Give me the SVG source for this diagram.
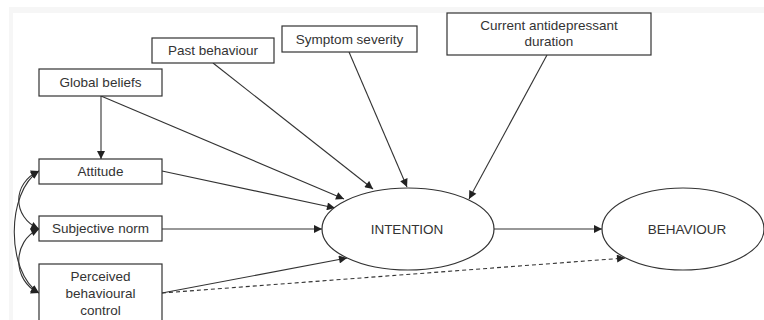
<svg xmlns="http://www.w3.org/2000/svg" width="764" height="320" viewBox="0 0 764 320">
<style>
.box{fill:#fff;stroke:#333;stroke-width:1.2}
.lbl{font-family:"Liberation Sans",Arial,sans-serif;font-size:13.5px;fill:#333;text-anchor:middle}
.ln{fill:none;stroke:#333;stroke-width:1.1}
.dash{stroke-dasharray:4 3}
</style>
<defs>
<marker id="ah" viewBox="0 0 10 10" refX="10" refY="5" markerWidth="9" markerHeight="8" markerUnits="userSpaceOnUse" orient="auto-start-reverse">
<path d="M0,0 L10,5 L0,10 Z" fill="#222"/>
</marker>
</defs>
<rect x="0" y="0" width="764" height="320" fill="#fff"/>
<rect x="9" y="7" width="755" height="313" fill="#f6f6f6"/>
<rect x="13" y="13" width="751" height="307" fill="#fff"/>
<g id="connectors">
<line class="ln" x1="101" y1="96" x2="101" y2="159" marker-end="url(#ah)"/>
<line class="ln" x1="101" y1="96" x2="344" y2="199" marker-end="url(#ah)"/>
<line class="ln" x1="213" y1="63" x2="373" y2="189" marker-end="url(#ah)"/>
<line class="ln" x1="349" y1="52" x2="407" y2="187" marker-end="url(#ah)"/>
<line class="ln" x1="547" y1="55" x2="469" y2="199" marker-end="url(#ah)"/>
<line class="ln" x1="162" y1="171" x2="335" y2="208" marker-end="url(#ah)"/>
<line class="ln" x1="162" y1="229" x2="322" y2="229" marker-end="url(#ah)"/>
<line class="ln" x1="162" y1="293" x2="347" y2="258" marker-end="url(#ah)"/>
<line class="ln dash" x1="162" y1="293" x2="625" y2="258" marker-end="url(#ah)"/>
<line class="ln" x1="494" y1="229" x2="602" y2="229" marker-end="url(#ah)"/>
<path class="ln" d="M39,171 C12,183 12,217 39,229" marker-start="url(#ah)" marker-end="url(#ah)"/>
<path class="ln" d="M39,229 C12,241 12,281 39,293" marker-start="url(#ah)" marker-end="url(#ah)"/>
<path class="ln" d="M39,171 C6,192 6,272 39,293" marker-start="url(#ah)" marker-end="url(#ah)"/>
</g>
<g id="global-beliefs">
<rect class="box" x="39" y="69" width="123" height="27"/>
<text class="lbl" x="100.5" y="87">Global beliefs</text>
</g>
<g id="past-behaviour">
<rect class="box" x="152" y="38" width="122" height="25"/>
<text class="lbl" x="213" y="55">Past behaviour</text>
</g>
<g id="symptom-severity">
<rect class="box" x="282" y="26" width="135" height="26"/>
<text class="lbl" x="349.5" y="44">Symptom severity</text>
</g>
<g id="current-antidepressant-duration">
<rect class="box" x="447" y="13" width="204" height="42"/>
<text class="lbl" x="549" y="30">Current antidepressant</text>
<text class="lbl" x="549" y="46">duration</text>
</g>
<g id="attitude">
<rect class="box" x="39" y="159" width="123" height="25"/>
<text class="lbl" x="100.5" y="176">Attitude</text>
</g>
<g id="subjective-norm">
<rect class="box" x="39" y="216" width="123" height="25"/>
<text class="lbl" x="100.5" y="233">Subjective norm</text>
</g>
<g id="perceived-behavioural-control">
<rect class="box" x="39" y="264" width="123" height="60"/>
<text class="lbl" x="100.5" y="281">Perceived</text>
<text class="lbl" x="100.5" y="298">behavioural</text>
<text class="lbl" x="100.5" y="315">control</text>
</g>
<g id="intention">
<ellipse class="box" cx="408" cy="229" rx="86" ry="41"/>
<text class="lbl" x="407" y="234">INTENTION</text>
</g>
<g id="behaviour">
<ellipse class="box" cx="683" cy="229" rx="81" ry="41"/>
<text class="lbl" x="687" y="234">BEHAVIOUR</text>
</g>
</svg>
